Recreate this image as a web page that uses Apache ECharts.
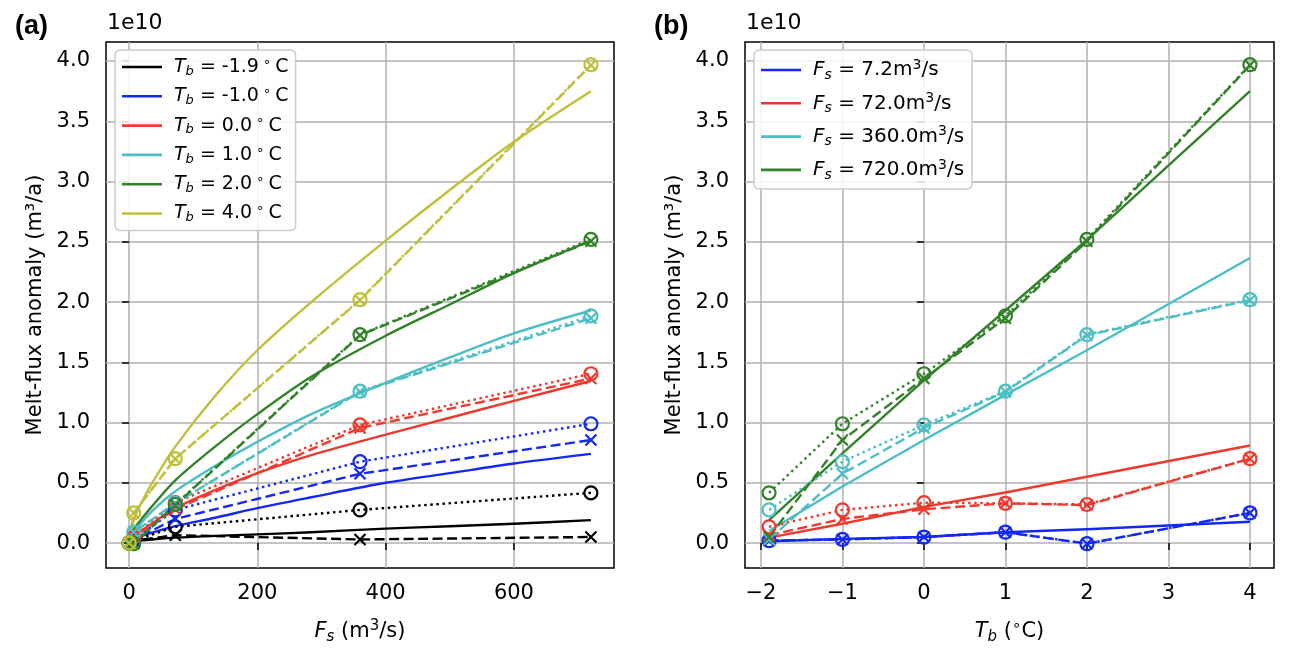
<!DOCTYPE html>
<html><head><meta charset="utf-8">
<script src="https://cdn.jsdelivr.net/npm/echarts@6/dist/echarts.min.js"></script>
<style>html,body{margin:0;padding:0;background:#fff}#c{width:1290px;height:656px}</style>
</head><body><div id="c"></div>
<script>
// ---------- data (values in units of 1e10 m^3/a) ----------
const fsPoints = [0, 7.2, 72, 360, 720];
const tbPoints = [-1.9, -1, 0, 1, 2, 4];
const tbLabels = ['-1.9', '-1.0', '0.0', '1.0', '2.0', '4.0'];
const fsLabels = ['7.2', '72.0', '360.0', '720.0'];
const fsTicks = [0, 200, 400, 600];
const tbTicks = [-2, -1, 0, 1, 2, 3, 4];
const yTicks = [0, 0.5, 1, 1.5, 2, 2.5, 3, 3.5, 4];

// dashed lines with 'x' markers, per Tb, at fsPoints
const crossTbM19 = [0, 0.02, 0.065, 0.03, 0.05];
const crossTbM10 = [0, 0.03, 0.20, 0.575, 0.855];
const crossTb00 = [0, 0.05, 0.28, 0.955, 1.365];
const crossTb10 = [0, 0.09, 0.33, 1.255, 1.865];
const crossTb20 = [0, -0.005, 0.315, 1.725, 2.505];
const crossTb40 = [0, 0.25, 0.70, 2.015, 3.965];

// dotted lines with 'o' markers, per Tb, at fsPoints
const circTbM19 = [0, 0.02, 0.135, 0.275, 0.417];
const circTbM10 = [0, 0.03, 0.275, 0.675, 0.99];
const circTb00 = [0, 0.05, 0.335, 0.98, 1.405];
const circTb10 = [0, 0.09, 0.33, 1.26, 1.885];
const circTb20 = [0, -0.005, 0.32, 1.73, 2.52];
const circTb40 = [0, 0.25, 0.70, 2.02, 3.97];

// solid model curves (panel a), read at fsCurve
const fsCurve = [0, 7.2, 15, 35, 72, 134, 200, 284, 400, 500, 600, 720];
const modelTbM19 = [0, 0.015, 0.02, 0.03, 0.045, 0.06, 0.072, 0.09, 0.12, 0.14, 0.16, 0.19];
const modelTbM10 = [0, 0.035, 0.05, 0.085, 0.14, 0.21, 0.29, 0.38, 0.5, 0.58, 0.66, 0.74];
const modelTb00 = [0, 0.05, 0.085, 0.16, 0.29, 0.44, 0.58, 0.73, 0.9, 1.04, 1.18, 1.345];
const modelTb10 = [0, 0.09, 0.14, 0.26, 0.43, 0.64, 0.84, 1.07, 1.33, 1.54, 1.74, 1.93];
const modelTb20 = [0, 0.115, 0.17, 0.3, 0.52, 0.8, 1.07, 1.38, 1.72, 1.98, 2.24, 2.51];
const modelTb40 = [0, 0.19, 0.29, 0.49, 0.8, 1.22, 1.6, 2.0, 2.51, 2.93, 3.33, 3.75];

// solid model lines (panel b), at tbPoints
const modelFs7 = [0.015, 0.035, 0.05, 0.09, 0.115, 0.177];
const modelFs72 = [0.045, 0.16, 0.3, 0.42, 0.55, 0.81];
const modelFs360 = [0.1, 0.47, 0.855, 1.23, 1.6, 2.365];
const modelFs720 = [0.19, 0.745, 1.35, 1.93, 2.515, 3.75];

const colorsA = ['#000000', '#1428f5', '#ee3a2e', '#4cbec4', '#33822a', '#bfbf3a'];
const colorsB = ['#1428f5', '#ee3a2e', '#4cbec4', '#33822a'];

// ---------- build ----------
const crossRows = [crossTbM19, crossTbM10, crossTb00, crossTb10, crossTb20, crossTb40];
const circRows = [circTbM19, circTbM10, circTb00, circTb10, circTb20, circTb40];
const modelRowsA = [modelTbM19, modelTbM10, modelTb00, modelTb10, modelTb20, modelTb40];
const modelRowsB = [modelFs7, modelFs72, modelFs360, modelFs720];

const FONT = 'DejaVu Sans';
const X_PATH = 'path://M0,0L10,10M10,0L0,10';
const LW = 2.4;
const TICK_FS = 21;

function solid(name, data, color, xi) {
  return { type: 'line', name, xAxisIndex: xi, yAxisIndex: xi, data, symbol: 'none',
    smooth: xi === 0 ? 0.3 : false,
    lineStyle: { color, width: LW, type: 'solid', join: 'round' }, itemStyle: { color }, z: 2, silent: true };
}
function crossLine(data, color, xi) {
  return { type: 'line', name: '_x', xAxisIndex: xi, yAxisIndex: xi, data,
    symbol: X_PATH, symbolSize: 11, showSymbol: true,
    lineStyle: { color, width: LW, type: [10, 4.5] },
    itemStyle: { color, borderColor: color, borderWidth: 2.2 }, z: 3, silent: true };
}
function circLine(data, color, xi) {
  return { type: 'line', name: '_o', xAxisIndex: xi, yAxisIndex: xi, data,
    symbol: 'circle', symbolSize: 13, showSymbol: true,
    lineStyle: { color, width: LW, type: [2.5, 3.6] },
    itemStyle: { color: 'rgba(0,0,0,0)', borderColor: color, borderWidth: 2.2 }, z: 3, silent: true };
}

const series = [];
const legendA = [], legendB = [];
tbLabels.forEach((lab, i) => {
  const c = colorsA[i];
  const nm = 'A' + lab;
  legendA.push(nm);
  series.push(solid(nm, fsCurve.map((f, j) => [f, modelRowsA[i][j]]), c, 0));
  series.push(crossLine(fsPoints.map((f, j) => [f, crossRows[i][j]]), c, 0));
  series.push(circLine(fsPoints.map((f, j) => [f, circRows[i][j]]), c, 0));
});
fsLabels.forEach((lab, k) => {
  const c = colorsB[k];
  const j = k + 1; // column in fsPoints
  const nm = 'B' + lab;
  legendB.push(nm);
  series.push(solid(nm, tbPoints.map((t, m) => [t, modelRowsB[k][m]]), c, 1));
  series.push(crossLine(tbPoints.map((t, m) => [t, crossRows[m][j]]), c, 1));
  series.push(circLine(tbPoints.map((t, m) => [t, circRows[m][j]]), c, 1));
});

function richSet(fs, lh) {
  const sm = Math.round(fs * 0.7);
  return {
    pad: { width: 7, fontSize: fs, lineHeight: lh },
    it: { fontFamily: FONT, fontStyle: 'italic', fontSize: fs, lineHeight: lh, color: '#000' },
    n: { fontFamily: FONT, fontSize: fs, lineHeight: lh, color: '#000' },
    sub: { fontFamily: FONT, fontStyle: 'italic', fontSize: sm, lineHeight: Math.round(lh * 0.45), verticalAlign: 'bottom', color: '#000' },
    sup: { fontFamily: FONT, fontSize: sm, lineHeight: Math.round(lh * 0.45), verticalAlign: 'top', color: '#000' }
  };
}
const richLegendA = richSet(19, 22);
const richLegendB = richSet(20, 24);
const richAxis = richSet(21, 26);

const yMin = -0.207, yMax = 4.158;
function yAxis(gi) {
  return {
    type: 'value', gridIndex: gi, min: yMin, max: yMax,
    name: 'Melt-flux anomaly (m³/a)', nameLocation: 'middle', nameGap: 60,
    nameTextStyle: { fontFamily: FONT, fontSize: 21, color: '#000' },
    axisLine: { show: false },
    axisTick: { show: true, inside: false, length: 7, customValues: yTicks, lineStyle: { color: '#000', width: 1.5 } },
    axisLabel: { customValues: yTicks, margin: 16, fontFamily: FONT, fontSize: TICK_FS, color: '#000',
      formatter: v => v.toFixed(1) },
    splitLine: { show: true, lineStyle: { color: '#b0b0b0', width: 1.5 } }
  };
}
const minus = v => (v < 0 ? '\u2212' + Math.abs(v) : String(v));
function xAxis(gi, min, max, ticks, name) {
  return { type: 'value', gridIndex: gi, min, max,
    name, nameLocation: 'middle', nameGap: 51,
    nameTextStyle: { rich: richAxis, verticalAlign: 'top' },
    axisLine: { show: false },
    axisTick: { show: true, length: 7, customValues: ticks, lineStyle: { color: '#000', width: 1.5 } },
    axisLabel: { customValues: ticks, margin: 15, fontFamily: FONT, fontSize: TICK_FS, color: '#000', formatter: minus },
    splitLine: { show: true, lineStyle: { color: '#b0b0b0', width: 1.5 } } };
}
function legend(data, left, gap, pad, fmt, rich) {
  return { data, left, top: 50, orient: 'vertical', itemWidth: 40, itemHeight: 2.6, icon: 'rect', itemGap: gap,
    padding: pad, backgroundColor: 'rgba(255,255,255,0.85)', borderColor: '#cccccc', borderWidth: 1.5, borderRadius: 5,
    selectedMode: false, formatter: fmt, textStyle: { rich } };
}

const option = {
  animation: false,
  backgroundColor: '#fff',
  grid: [
    { left: 106, top: 42, width: 508, height: 526, show: true, borderColor: '#000', borderWidth: 1.5, backgroundColor: 'transparent' },
    { left: 745, top: 42, width: 529, height: 526, show: true, borderColor: '#000', borderWidth: 1.5, backgroundColor: 'transparent' }
  ],
  xAxis: [
    xAxis(0, -36, 756, fsTicks, '{it|F}{sub|s}{n| (m}{sup|3}{n|/s)}'),
    xAxis(1, -2.195, 4.295, tbTicks, '{it|T}{sub|b}{n| (}{sup|∘}{n|C)}')
  ],
  yAxis: [yAxis(0), yAxis(1)],
  legend: [
    legend(legendA, 115, 7.3, [6, 7, 6, 7],
      nm => '{pad|}{it|T}{sub|b}{n| = ' + nm.slice(1) + '}{sup| ∘ }{n|C}', richLegendA),
    legend(legendB, 754, 9.3, [8, 8, 7, 7],
      nm => '{pad|}{it|F}{sub|s}{n| = ' + nm.slice(1) + 'm}{sup|3}{n|/s}', richLegendB)
  ],
  graphic: [
    { type: 'text', left: 107, top: 12, style: { text: '1e10', font: '22px "DejaVu Sans"', fill: '#000' } },
    { type: 'text', left: 746, top: 12, style: { text: '1e10', font: '22px "DejaVu Sans"', fill: '#000' } },
    { type: 'text', left: 15, top: 13, style: { text: '(a)', font: 'bold 27px "Liberation Sans"', fill: '#000' } },
    { type: 'text', left: 654, top: 13, style: { text: '(b)', font: 'bold 27px "Liberation Sans"', fill: '#000' } }
  ],
  series
};
echarts.init(document.getElementById('c'), null, { renderer: 'canvas' }).setOption(option);
</script></body></html>
